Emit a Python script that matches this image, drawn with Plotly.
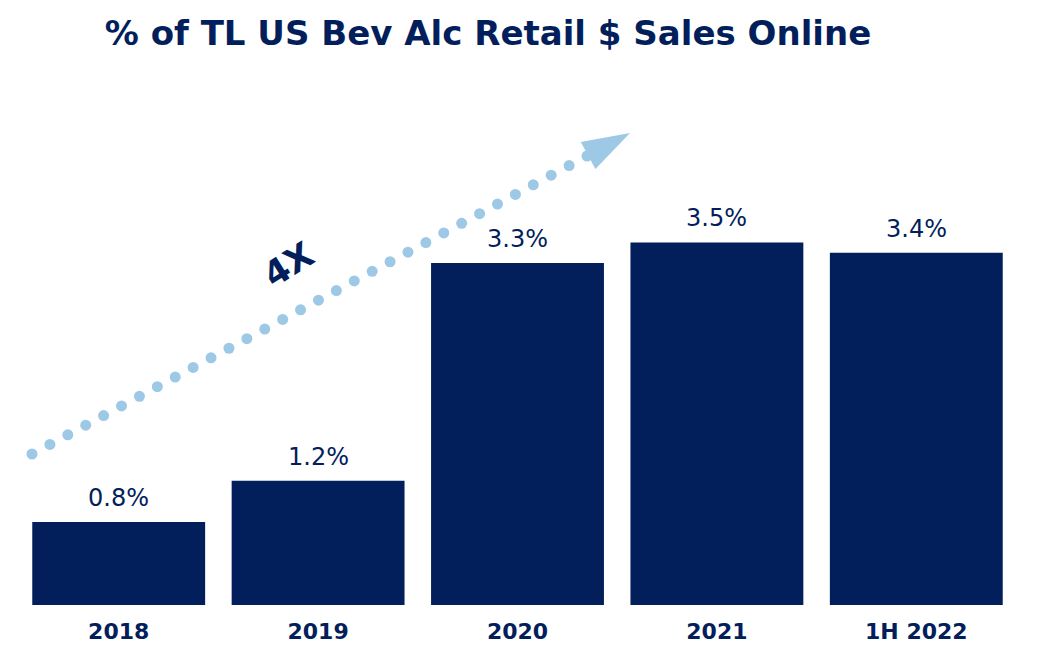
import numpy as np
import plotly.graph_objects as go

# chart values
categories = ["2018", "2019", "2020", "2021", "1H 2022"]
online_share = [0.8, 1.2, 3.3, 3.5, 3.4]
value_labels = ["0.8%", "1.2%", "3.3%", "3.5%", "3.4%"]
growth_label = "4X"

NAVY = "#021E5B"
LIGHT_BLUE = "#9DC8E6"
FONT = "DejaVu Sans"

# decorative arrow, in pixel coords of the overlay axes
arrow_start = (32, 454)
arrow_dot_end = (587, 156)
arrow_tip = (630, 133)
n_dots = 32


def draw_plots():
    fig = go.Figure()

    fig.add_trace(go.Bar(
        x=categories, y=online_share,
        marker=dict(color=NAVY, line=dict(width=0)),
        hoverinfo="skip", showlegend=False,
    ))

    # value labels above the bars (category index, since labels look numeric)
    for i, (val, lab) in enumerate(zip(online_share, value_labels)):
        fig.add_annotation(
            x=i, y=val, text=lab, showarrow=False,
            yanchor="bottom", yshift=8,
            font=dict(family=FONT, size=24, color=NAVY),
        )

    # dotted arrow
    dots_x = np.linspace(arrow_start[0], arrow_dot_end[0], n_dots)
    dots_y = np.linspace(arrow_start[1], arrow_dot_end[1], n_dots)
    fig.add_trace(go.Scatter(
        x=dots_x, y=dots_y, mode="markers", xaxis="x2", yaxis="y2",
        marker=dict(size=11, color=LIGHT_BLUE),
        hoverinfo="skip", showlegend=False,
    ))
    dx = arrow_tip[0] - arrow_start[0]
    dy = arrow_start[1] - arrow_tip[1]
    angle = 90 - np.degrees(np.arctan2(dy, dx))
    fig.add_trace(go.Scatter(
        x=[arrow_tip[0]], y=[arrow_tip[1]], mode="markers", xaxis="x2", yaxis="y2",
        marker=dict(symbol="arrow", size=50, angle=angle, color=LIGHT_BLUE,
                    line=dict(width=0)),
        hoverinfo="skip", showlegend=False,
    ))

    fig.add_annotation(
        x=288, y=265, xref="x2", yref="y2", text="<b>" + growth_label + "</b>",
        showarrow=False, textangle=-32,
        font=dict(family=FONT, size=35, color=NAVY),
    )

    fig.update_layout(
        width=1045, height=658,
        margin=dict(l=19, r=29, t=90, b=53),
        paper_bgcolor="white", plot_bgcolor="white",
        bargap=0.133,
        title=dict(
            text="<b>% of TL US Bev Alc Retail $ Sales Online</b>",
            x=488 / 1045, xanchor="center", y=1 - 33 / 658, yanchor="middle",
            font=dict(family=FONT, size=34, color=NAVY),
        ),
        xaxis=dict(
            type="category", range=[-0.5, 4.5],
            showgrid=False, zeroline=False, showline=False, ticks="",
            tickfont=dict(family=FONT, size=22, color=NAVY, weight="bold"),
            ticklabelstandoff=11,
        ),
        yaxis=dict(
            range=[0, (605 - 90) / 103.6], showgrid=False, zeroline=False,
            showticklabels=False, showline=False,
        ),
        xaxis2=dict(overlaying="x", range=[19, 1016], visible=False),
        yaxis2=dict(overlaying="y", range=[605, 90], visible=False),
    )

    fig.write_html("out.html", config={"displayModeBar": False},
                   post_script="document.body.style.margin='0';")


def main():
    draw_plots()


if __name__ == "__main__":
    main()
